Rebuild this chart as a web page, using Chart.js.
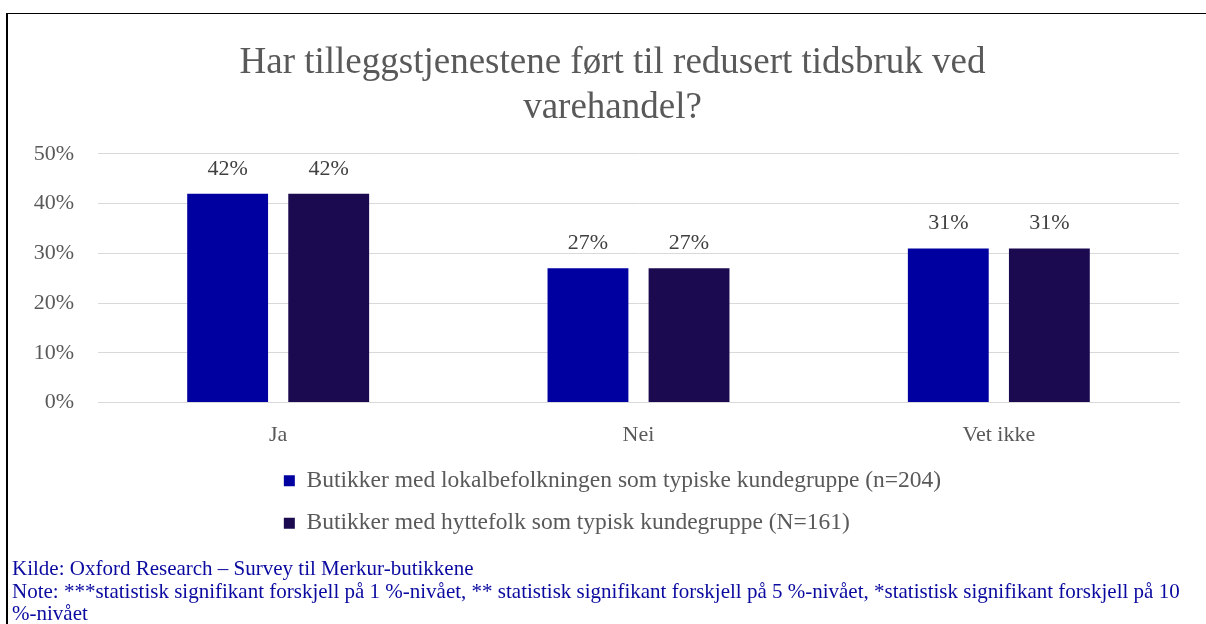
<!DOCTYPE html>
<html lang="no">
<head>
    <meta charset="UTF-8">
    <title>Tidsbruk ved varehandel</title>
    <script src="https://cdn.jsdelivr.net/npm/chart.js"></script>
    <style>
        html, body { margin: 0; padding: 0; background: #fff; }
        body { width: 1206px; height: 624px; position: relative; overflow: hidden; }
        .frame {
            position: absolute; left: 6px; top: 13px; right: 0; bottom: 0;
            border-top: 1px solid #000; border-left: 2px solid #000;
        }
        .chart-box { position: absolute; left: 0; top: 0; width: 1198px; height: 548px; }
        .source {
            position: absolute; left: 4px; top: 543px; right: 4px;
            font-family: "Liberation Serif", "Times New Roman", serif;
            font-size: 21px; line-height: 22.5px; color: #0a0aa0;
        }
    </style>
</head>
<body>
    <div class="frame">
        <div class="chart-box"><canvas id="chart"></canvas></div>
        <div class="source">
            Kilde: Oxford Research – Survey til Merkur-butikkene<br>
            Note: ***statistisk signifikant forskjell på 1 %-nivået, ** statistisk signifikant forskjell på 5 %-nivået, *statistisk signifikant forskjell på 10 %-nivået
        </div>
    </div>

    <script>
        const categories = ['Ja', 'Nei', 'Vet ikke'];
        const seriesNames = [
            'Butikker med lokalbefolkningen som typiske kundegruppe (n=204)',
            'Butikker med hyttefolk som typisk kundegruppe (N=161)'
        ];
        const lokalValues = [42, 27, 31];
        const hytteValues = [42, 27, 31];
        const yTicks = [0, 10, 20, 30, 40, 50];

        const serif = '"Liberation Serif", "Times New Roman", serif';

        // value labels above each bar
        const barValueLabels = {
            id: 'barValueLabels',
            afterDatasetsDraw(chart) {
                const ctx = chart.ctx;
                ctx.save();
                ctx.font = '22px ' + serif;
                ctx.fillStyle = '#404040';
                ctx.textAlign = 'center';
                ctx.textBaseline = 'middle';
                chart.data.datasets.forEach((ds, i) => {
                    chart.getDatasetMeta(i).data.forEach((bar, j) => {
                        ctx.fillText(ds.data[j] + '%', bar.x, bar.y - 25);
                    });
                });
                ctx.restore();
            }
        };

        // title and legend sit a little right of the canvas centre,
        // legend pulled up closer to the axis labels
        const nudgeBlocks = {
            id: 'nudgeBlocks',
            afterLayout(chart) {
                chart.titleBlock.left += 6;
                chart.titleBlock.right += 6;
                const lg = chart.legend;
                lg.left += 6;
                lg.right += 6;
                lg.top -= 17;
                lg.bottom -= 17;
            },
            // start every legend row at the same x as the widest one
            beforeDraw(chart) {
                const lg = chart.legend;
                if (!lg || !lg.lineWidths) return;
                const widest = Math.max(...lg.lineWidths);
                lg.lineWidths = lg.lineWidths.map(() => widest);
            }
        };

        new Chart(document.getElementById('chart'), {
            type: 'bar',
            data: {
                labels: categories,
                datasets: [
                    {
                        label: seriesNames[0],
                        data: lokalValues,
                        backgroundColor: '#0000a0',
                        categoryPercentage: 0.561,
                        barPercentage: 0.8
                    },
                    {
                        label: seriesNames[1],
                        data: hytteValues,
                        backgroundColor: '#1b0a50',
                        categoryPercentage: 0.561,
                        barPercentage: 0.8
                    }
                ]
            },
            options: {
                responsive: true,
                maintainAspectRatio: false,
                animation: false,
                layout: { padding: { left: 26, right: 27, top: 0, bottom: 0 } },
                scales: {
                    y: {
                        min: 0,
                        max: 50,
                        afterBuildTicks(axis) {
                            axis.ticks = yTicks.map(v => ({ value: v }));
                        },
                        afterFit(axis) { axis.width = 64; },
                        border: { display: false },
                        grid: { color: '#d9d9d9', drawTicks: false },
                        ticks: {
                            padding: 24,
                            color: '#595959',
                            font: { family: serif, size: 22 },
                            callback: v => v + '%'
                        }
                    },
                    x: {
                        border: { color: '#d9d9d9' },
                        grid: { display: false, drawTicks: false },
                        ticks: {
                            padding: 19,
                            color: '#595959',
                            font: { family: serif, size: 22, lineHeight: 1.2 }
                        }
                    }
                },
                plugins: {
                    title: {
                        display: true,
                        text: ['Har tilleggstjenestene ført til redusert tidsbruk ved', 'varehandel?'],
                        color: '#595959',
                        font: { family: serif, size: 37, weight: 'normal', lineHeight: 1.216 },
                        padding: { top: 27, bottom: 23 }
                    },
                    legend: {
                        position: 'bottom',
                        labels: {
                            color: '#595959',
                            font: { family: serif, size: 23.5 },
                            boxWidth: 11,
                            boxHeight: 11,
                            padding: 19
                        }
                    },
                    tooltip: { enabled: false }
                }
            },
            plugins: [barValueLabels, nudgeBlocks]
        });
    </script>
</body>
</html>
